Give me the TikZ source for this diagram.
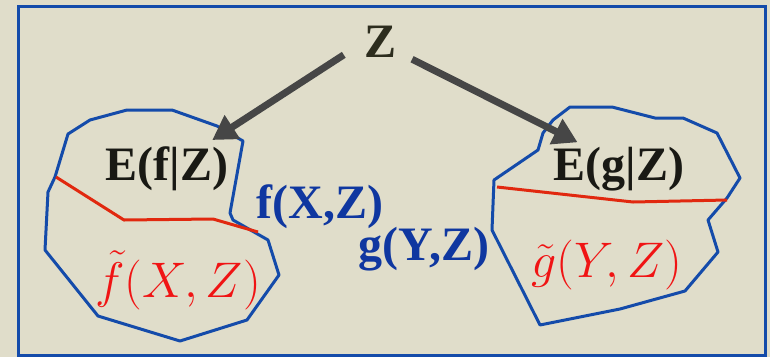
\documentclass[tikz,border=0pt]{standalone}
\usepackage{fix-cm}
\usepackage{fontspec}
\setmainfont{Liberation Serif}
\usetikzlibrary{arrows.meta}
\definecolor{bg}{RGB}{224,221,202}
\definecolor{frameblue}{RGB}{20,75,170}
\definecolor{txtblue}{RGB}{15,55,160}
\definecolor{lnred}{RGB}{225,40,15}
\definecolor{mred}{RGB}{240,20,20}
\definecolor{zcol}{RGB}{45,45,30}
\definecolor{ecol}{RGB}{25,25,20}
\definecolor{arrgray}{RGB}{70,70,70}
\tikzset{
  big/.style={font=\fontsize{48}{56}\selectfont\bfseries, anchor=base},
  mth/.style={font=\fontsize{50}{58}\selectfont, text=mred, anchor=base},
  blob/.style={draw=frameblue, line width=3pt, line join=round},
  cut/.style={draw=lnred, line width=3pt, line join=round},
  arr/.style={draw=arrgray, line width=7pt, -{Triangle[length=24pt,width=27pt]}},
}
\begin{document}
\begin{tikzpicture}[x=1pt,y=-1pt]
\fill[bg] (0,0) rectangle (770,357);
\useasboundingbox (0,0) rectangle (770,357);
\draw[frameblue, line width=3pt] (18,6) rectangle (765,355);

% left region
\draw[blob] (68,134) -- (90,120) -- (127,110) -- (172,110) -- (217,126) -- (243,141)
  -- (230,213) -- (233,220) -- (268,240) -- (279,275) -- (247,320) -- (180,341)
  -- (98,316) -- (45,250) -- (48,192) -- (55,177) -- cycle;
\draw[cut] (56,177) -- (124,220) -- (213,219) -- (258,232);

% right region
\draw[blob] (570,107) -- (612,107) -- (655,118) -- (683,118) -- (717,133) -- (740,178)
  -- (727,198) -- (708,220) -- (718,252) -- (685,291) -- (620,309) -- (540,325)
  -- (492,230) -- (494,180) -- (538,150) -- (543,133) -- (553,120) -- cycle;
\draw[cut] (497,187) -- (633,202) -- (727,200);

% texts
\node[big, text=zcol, inner xsep=21pt, inner ysep=2pt] (Z) at (381,57) {Z};
\node[big, text=ecol, inner sep=6pt] (Ef) at (167,180) {E(f|Z)};
\node[big, text=ecol, inner sep=6pt] (Eg) at (619,180) {E(g|Z)};
\node[big, text=txtblue] (fxz) at (320,218) {f(X,Z)};
\node[big, text=txtblue] (gyz) at (424,260) {g(Y,Z)};
\node[mth] (tf) at (178,297) {$\tilde f(X,Z)$};
\node[mth] (tg) at (607,277) {$\tilde g(Y,Z)$};

% arrows
\draw[arr] (Z.200) -- (Ef.32);
\draw[arr, shorten >=-4pt] (Z.-30) -- (Eg.148);
\end{tikzpicture}
\end{document}
